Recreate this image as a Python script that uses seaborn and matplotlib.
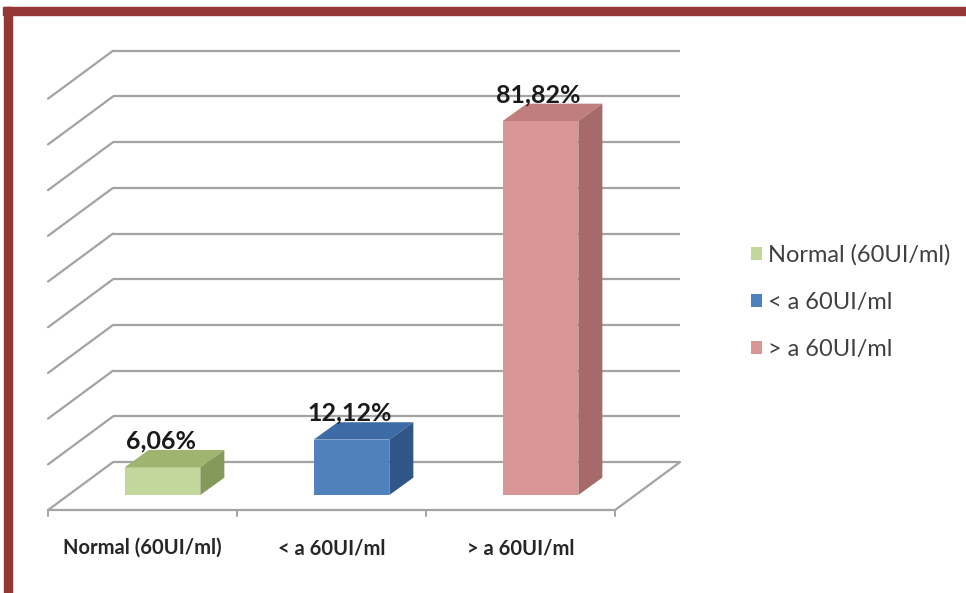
import seaborn as sns
import matplotlib.pyplot as plt
import pandas as pd
import numpy as np
from matplotlib.patches import Rectangle, Patch

sns.set_style("white")
plt.rcParams['font.family'] = ['Lato', 'DejaVu Sans']

# data
categories = ["Normal (60UI/ml)", "< a 60UI/ml", "> a 60UI/ml"]
values = [6.06, 12.12, 81.82]
labels = ["6,06%", "12,12%", "81,82%"]
front_cols = ["#C3D69B", "#4F81BD", "#D99694"]
top_cols = ["#9FB46F", "#3D6BA6", "#C07E7C"]
side_cols = ["#84995A", "#2F5589", "#A56A69"]
grid_vals = np.arange(0, 100, 10)

df = pd.DataFrame({"cat": categories, "val": values})

# oblique 3d offsets (data units)
bar_dx, bar_dy = 0.127, 3.8      # bar depth
wall_dx, wall_dy = 0.238, 7.2    # back wall, from bar plane
front_dx, front_dy = -0.106, -3.3  # floor front edge, from bar plane

fig = plt.figure(figsize=(9.66, 5.93), dpi=100)
ax = fig.add_axes([0, 0, 1, 1])

sns.barplot(data=df, x="cat", y="val", hue="cat", order=categories,
            hue_order=categories, palette=front_cols, width=0.4,
            saturation=1, ax=ax, zorder=3, linewidth=0, legend=False)

gc = "#a3a3a3"
left, right = -0.5, 2.5
# back wall gridlines + left wall diagonals
for g in grid_vals:
    ax.plot([left + wall_dx, right + wall_dx], [g + wall_dy, g + wall_dy],
            color=gc, lw=1.6, zorder=1, solid_capstyle="butt")
    ax.plot([left + front_dx, left + wall_dx], [g + front_dy, g + wall_dy],
            color=gc, lw=1.6, zorder=1)
# floor
ax.plot([left + front_dx, right + front_dx], [front_dy, front_dy], color=gc, lw=1.6, zorder=1)
ax.plot([right + front_dx, right + wall_dx], [front_dy, wall_dy], color=gc, lw=1.6, zorder=1)
for k in range(4):
    xk = left + front_dx + k
    ax.plot([xk, xk], [front_dy, front_dy - 1.2], color=gc, lw=1.4, zorder=1)

# 3d faces on bars
for i, p in enumerate(ax.patches[:3]):
    x0 = p.get_x()
    x1 = x0 + p.get_width()
    h = p.get_height()
    ax.fill([x0, x1, x1 + bar_dx, x0 + bar_dx], [h, h, h + bar_dy, h + bar_dy],
            color=top_cols[i], zorder=3, lw=0)
    ax.fill([x1, x1 + bar_dx, x1 + bar_dx, x1], [0, bar_dy, h + bar_dy, h],
            color=side_cols[i], zorder=3, lw=0)
    ax.text((x0 + x1) / 2 - 0.01, h + bar_dy - 0.5, labels[i], ha="center", va="bottom",
            fontsize=18, fontweight="bold", color="#1a1a1a", zorder=4)
    ax.text(i + front_dx, -11.6, categories[i], ha="center", va="center",
            fontsize=14.5, fontweight="bold", color="#262626")

ax.set_xlim(-0.860, 4.251)
ax.set_ylim(-21.44, 108.3)
ax.axis("off")

handles = [Patch(facecolor=c, edgecolor="none") for c in front_cols]
leg = ax.legend(handles, categories, loc="center left",
                bbox_to_anchor=(739 / 966, 1 - 302 / 593),
                bbox_transform=fig.transFigure, frameon=False, fontsize=17,
                labelspacing=1.1, handlelength=0.48, handleheight=0.48,
                handletextpad=0.25, borderpad=0)
for t in leg.get_texts():
    t.set_color("#404040")

# red frame
red = "#953735"
fig.patches.append(Rectangle((3 / 966, 1 - 15 / 593), 1, 8 / 593, transform=fig.transFigure,
                             color=red, zorder=10))
fig.patches.append(Rectangle((4 / 966, 0), 8 / 966, 1 - 7 / 593, transform=fig.transFigure,
                             color=red, zorder=10))

fig.savefig("out.png", dpi=100)
